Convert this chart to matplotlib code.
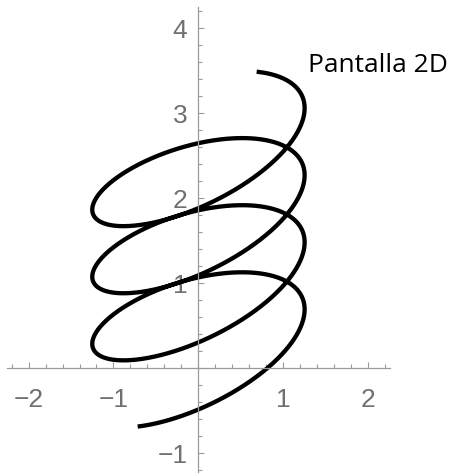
import numpy as np
import matplotlib
matplotlib.use("Agg")
import matplotlib.pyplot as plt
from matplotlib.ticker import MultipleLocator, FixedLocator

# Helix seen on a 2D screen: x = R cos t, y = y0 + c t + A sin t + B cos t
radius = 1.25
rise_per_rad = 0.1257
offset_y = 0.29
sin_amp = 0.58
cos_amp = 0.40
t_start = -2.18
t_end = 19.84

x_ticks = [-2, -1, 1, 2]
x_tick_labels = ["\u22122", "\u22121", "1", "2"]
y_ticks = [-1, 1, 2, 3, 4]
y_tick_labels = ["\u22121", "1", "2", "3", "4"]
curve_label = "Pantalla 2D"

x_limits = (-2.25, 2.255)
y_limits = (-1.22, 4.25)

t = np.linspace(t_start, t_end, 2000)
x = radius * np.cos(t)
y = offset_y + rise_per_rad * t + sin_amp * np.sin(t) + cos_amp * np.cos(t)

W, H = 455, 474
fig = plt.figure(figsize=(W / 100, H / 100), dpi=100)
left_px, right_px = 7.3, 390.0
top_px, bottom_px = 7.0, 471.7
ax = fig.add_axes([left_px / W, (H - bottom_px) / H,
                   (right_px - left_px) / W, (bottom_px - top_px) / H])
ax.set_xlim(*x_limits)
ax.set_ylim(*y_limits)

ax.plot(x, y, color="black", lw=3.1, solid_capstyle="butt")

axis_color = "#9a9a9a"
label_color = "#707070"
for side in ("top", "right"):
    ax.spines[side].set_visible(False)
for side in ("left", "bottom"):
    ax.spines[side].set_position(("data", 0))
    ax.spines[side].set_color(axis_color)
    ax.spines[side].set_linewidth(0.9)

ax.xaxis.set_major_locator(FixedLocator(x_ticks))
ax.set_xticklabels(x_tick_labels)
ax.yaxis.set_major_locator(FixedLocator(y_ticks))
ax.set_yticklabels(y_tick_labels)
ax.xaxis.set_minor_locator(MultipleLocator(0.2))
ax.yaxis.set_minor_locator(MultipleLocator(0.2))

ax.tick_params(which="both", direction="in", color=axis_color, width=0.8)
ax.tick_params(which="major", length=4.5)
ax.tick_params(which="minor", length=2.6)
ax.tick_params(axis="x", which="major", pad=14, labelsize=19, labelcolor=label_color)
ax.tick_params(axis="y", which="major", pad=8, labelsize=19, labelcolor=label_color)
for lab in ax.get_xticklabels() + ax.get_yticklabels():
    lab.set_fontfamily("Liberation Sans")

ax.patch.set_visible(False)
ax.text(1.294, 3.486, curve_label, fontsize=19, family="Open Sans", color="black",
        ha="left", va="baseline", clip_on=False)

fig.savefig("out.png", dpi=100)
